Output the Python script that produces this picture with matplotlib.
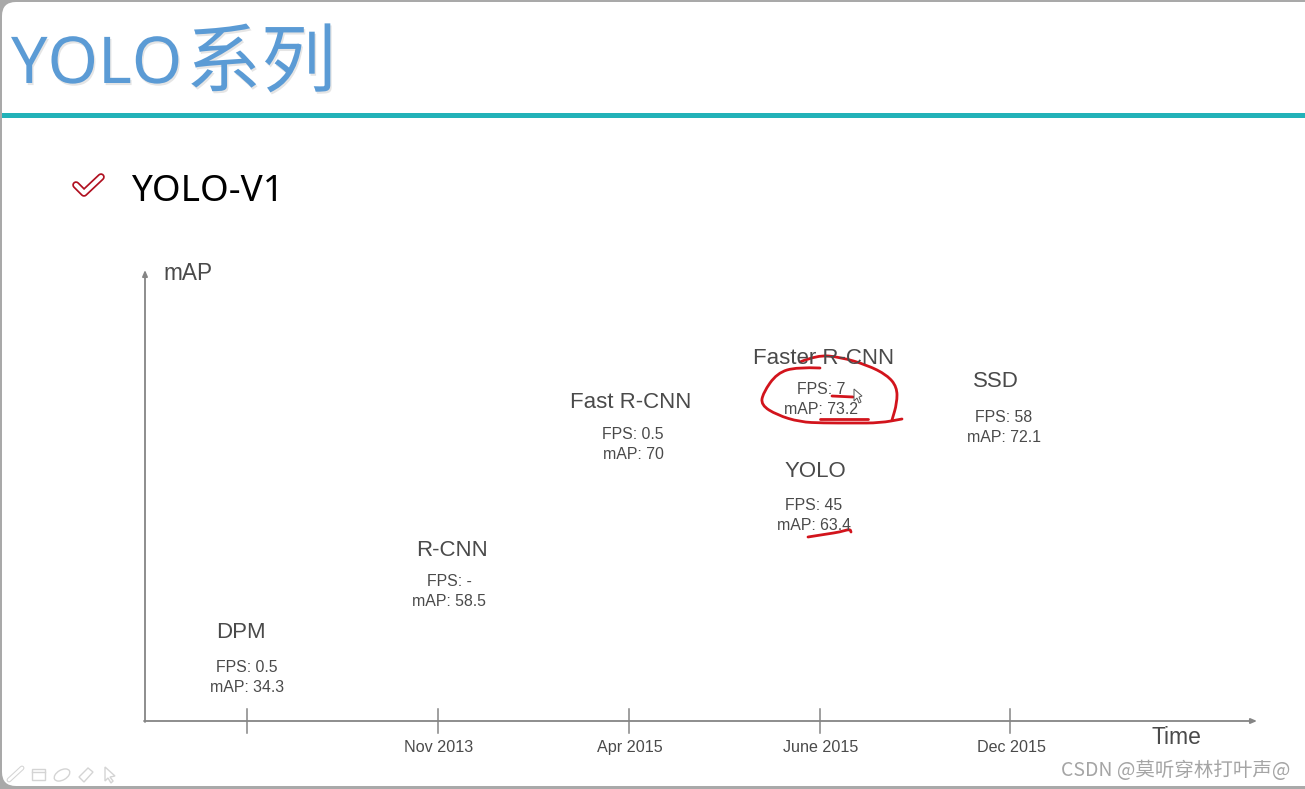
import matplotlib
matplotlib.use("Agg")
import matplotlib.pyplot as plt
import matplotlib.patheffects as pe
from matplotlib.patches import FancyBboxPatch, Polygon, PathPatch, Ellipse, Rectangle
from matplotlib.path import Path

# chart values
methods = ["DPM", "R-CNN", "Fast R-CNN", "Faster R-CNN", "YOLO", "SSD"]
fps = ["0.5", "-", "0.5", "7", "45", "58"]
map_vals = ["34.3", "58.5", "70", "73.2", "63.4", "72.1"]
tick_labels = ["", "Nov 2013", "Apr 2015", "June 2015", "Dec 2015"]

# where things sit on the slide, in pixels
tick_x = [247, 438, 629, 820, 1010]
name_x = [241, 452, 631, 824, 815, 996]
name_y = [633, 551, 402, 358, 471, 381]
stat_x = [247, 449, 633, 821, 814, 1004]
stat_y = [667, 581, 434, 389, 505, 417]

# red pen marks on top of the slide
pen_top = [(800, 362), (817, 355), (840, 357), (867, 365), (887, 375), (897, 387), (897, 403), (892, 420)]
pen_loop = [(820, 368), (797, 367), (777, 373), (763, 393), (761, 405), (777, 415), (800, 422), (823, 423),
            (853, 423), (880, 423), (902, 419)]
pen_under = [(820, 419), (868, 419)]
pen_seven = [(832, 396), (853, 397)]
pen_yolo = [(808, 537), (827, 534), (840, 532), (850, 529), (851, 532)]

dark = "#4a4a4a"
pen = "#d2141c"
axis_grey = "#858585"


def smooth(pts):
    # quadratic curve through the midpoints so the pen marks are not angular
    verts = [pts[0]]
    codes = [Path.MOVETO]
    for i in range(1, len(pts) - 1):
        mid = ((pts[i][0] + pts[i + 1][0]) / 2, (pts[i][1] + pts[i + 1][1]) / 2)
        verts += [pts[i], mid]
        codes += [Path.CURVE3, Path.CURVE3]
    verts.append(pts[-1])
    codes.append(Path.LINETO)
    return Path(verts, codes)


fig = plt.figure(figsize=(13.05, 7.89), dpi=100, facecolor="#a9a9a9")
ax = fig.add_axes([0, 0, 1, 1])
ax.set_xlim(0, 1305)
ax.set_ylim(789, 0)
ax.axis("off")

# slide
ax.add_patch(FancyBboxPatch((2, 2), 1400, 784, boxstyle="round,pad=0,rounding_size=14", fc="white", ec="none"))

# header
shadow = [pe.withSimplePatchShadow(offset=(1, -1.5), shadow_rgbFace="#b5b5b5", alpha=0.35)]
ax.text(11, 83, "YOLO", fontsize=46.5, family="Noto Sans", color="#5b9bd5", va="baseline", path_effects=shadow)
ax.text(186, 86, "系列", fontsize=54, family="Noto Sans CJK SC", weight="light", color="#5b9bd5", va="baseline",
        path_effects=shadow)
ax.add_patch(Rectangle((2, 113), 1303, 5, fc="#22b2b8", ec="none"))

# bullet
check = [(76, 185), (84, 193), (101, 177)]
ax.plot(*zip(*check), color="#b01020", lw=5.5, solid_joinstyle="round", solid_capstyle="round")
ax.plot(*zip(*check), color="white", lw=3, solid_joinstyle="round", solid_capstyle="round")
ax.text(131, 201, "YOLO-V1", fontsize=26.5, family="Noto Sans", color="black", va="baseline")

# axes of the timeline
ax.annotate("", xy=(145, 270), xytext=(145, 722),
            arrowprops=dict(arrowstyle="-|>,head_length=0.35,head_width=0.15", color=axis_grey, lw=1.3,
                            shrinkA=0, shrinkB=0))
ax.annotate("", xy=(1257, 721), xytext=(144, 721),
            arrowprops=dict(arrowstyle="-|>,head_length=0.35,head_width=0.15", color=axis_grey, lw=1.3,
                            shrinkA=0, shrinkB=0))
for x, lab in zip(tick_x, tick_labels):
    ax.plot([x, x], [709, 733], color=axis_grey, lw=1.1)
    ax.text(x + 1, 747.5, lab, fontsize=11.6, family="Liberation Sans", color=dark, ha="center", va="center")
ax.text(188, 273, "mAP", fontsize=16.3, family="Liberation Sans", color=dark, ha="center", va="center")
ax.text(1176, 738, "Time", fontsize=16.5, family="Liberation Sans", color=dark, ha="center", va="center")

# one block per detector
for i, m in enumerate(methods):
    ax.text(name_x[i], name_y[i], m, fontsize=16, family="Liberation Sans", color=dark, ha="center", va="center")
    ax.text(stat_x[i], stat_y[i], "FPS: " + fps[i], fontsize=11.4, family="Liberation Sans", color=dark,
            ha="center", va="center")
    ax.text(stat_x[i], stat_y[i] + 20, "mAP: " + map_vals[i], fontsize=11.4, family="Liberation Sans", color=dark,
            ha="center", va="center")

# pen marks
for stroke in [pen_top, pen_loop, pen_under, pen_seven, pen_yolo]:
    ax.add_patch(PathPatch(smooth(stroke), fc="none", ec=pen, lw=2, capstyle="round"))
ax.add_patch(Polygon([(854, 389), (854, 401), (857, 398), (859, 403), (861, 402), (859, 397), (862, 396)],
                     closed=True, fc="white", ec="#555555", lw=0.7))

# toolbar ghosts, bottom left
faint = "#d4d4d4"
ax.plot([9, 22], [780, 768], color=faint, lw=3.5, solid_capstyle="round")
ax.plot([9, 22], [780, 768], color="white", lw=2, solid_capstyle="round")
ax.add_patch(Rectangle((32, 769), 13, 11, fc="white", ec=faint, lw=1))
ax.plot([32, 45], [772, 772], color=faint, lw=1)
ax.add_patch(Ellipse((62, 775), 17, 10, angle=-30, fc="white", ec=faint, lw=1))
ax.add_patch(Polygon([(79, 777), (88, 768), (93, 772), (84, 782)], closed=True, fc="white", ec=faint, lw=1))
ax.add_patch(Polygon([(105, 767), (105, 781), (108, 778), (111, 783), (113, 781), (110, 777), (115, 776)],
                     closed=True, fc="white", ec=faint, lw=1))

# watermark
ax.text(1176, 770, "CSDN @莫听穿林打叶声@", fontsize=14, family=["Noto Sans CJK SC", "DejaVu Sans"],
        color="#a5a5a5", ha="center", va="center")

fig.savefig("out.png", dpi=100, facecolor=fig.get_facecolor())
